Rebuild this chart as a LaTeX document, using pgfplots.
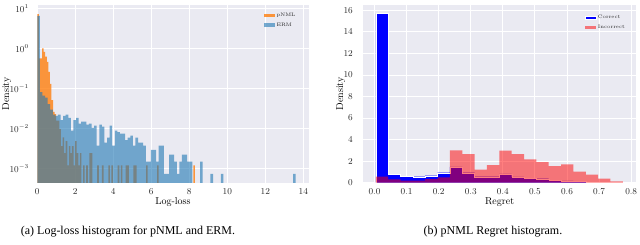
\documentclass[border=0pt]{standalone}
\usepackage{pgfplots}
\pgfplotsset{compat=1.18}
\usepackage{fontspec}
\newfontfamily\capfont{Liberation Serif}
\definecolor{bgc}{HTML}{EAEAF2}
\definecolor{txt}{HTML}{262626}
\definecolor{mplorange}{HTML}{FF7F0E}
\definecolor{mplblue}{HTML}{1F77B4}
\pgfplotsset{
  sns/.style={
    scale only axis,
    axis background/.style={fill=bgc},
    axis line style={draw=none},
    grid=major,
    major grid style={white, line width=0.9pt},
    major tick length=0pt,
    minor tick length=0pt,
    tick label style={font=\fontsize{9}{10}\selectfont, text=txt},
    xticklabel style={yshift=-2pt},
    label style={font=\fontsize{11}{12}\selectfont, text=txt},
    every axis x label/.style={at={(axis description cs:0.5,0)}, yshift=-19pt, anchor=center},
    legend style={draw=none, fill=none, font=\fontsize{5}{6}\selectfont, at={(1,1)}, anchor=north east, row sep=0.5pt, text=txt},
    legend cell align=left,
    legend image code/.code={\fill[##1] (0pt,-1.6pt) rectangle (11pt,1.6pt);},
  }
}
\begin{document}
\begin{tikzpicture}
\path[use as bounding box] (0,0) rectangle (640pt,244pt);
% ---------------- (a) ----------------
\begin{axis}[sns, at={(37.3pt,61.3pt)}, anchor=south west, width=271.3pt, height=177.7pt,
  ymode=log, xmin=0, xmax=14.28, ymin=4.4e-4, ymax=12.1,
  xtick={0,2,4,6,8,10,12,14}, ytick={1e-3,1e-2,1e-1,1,10},
  yticklabel style={xshift=-5pt},
  xlabel={Log-loss}, ylabel={Density},
  every axis y label/.style={at={(axis description cs:-0.113,0.5)}, rotate=90, anchor=center},
  legend style={xshift=-8pt, yshift=-4pt}]
\addplot[const plot, fill=mplorange, fill opacity=0.8, draw=none] table {
x y
0 1e-6
0 7.2
0.083 0.56
0.166 0.56
0.249 1.0
0.332 0.82
0.415 0.62
0.498 0.46
0.581 0.26
0.664 0.13
0.747 0.051
0.830 0.026
0.913 0.0228
0.996 0.0156
1.079 0.0156
1.162 0.0096
1.245 0.0036
1.328 0.0060
1.411 0.0024
1.494 0.0048
1.577 0.0012
1.660 0.0036
1.743 0.0024
1.826 0.0036
1.909 0.0012
1.992 0.0048
2.075 0.0024
2.158 0.0012
2.241 0.0024
2.324 1e-6
2.407 0.0012
2.490 1e-6
2.573 0.0012
2.656 1e-6
2.739 0.0024
2.822 0.0024
2.905 1e-6
3.154 0.0012
3.237 1e-6
3.403 0.0012
3.486 1e-6
3.735 0.0012
3.818 1e-6
3.901 0.0012
3.984 1e-6
4.233 0.0012
4.316 1e-6
4.399 0.0012
4.482 1e-6
4.648 0.0012
4.731 0.0012
4.814 1e-6
5.063 0.0012
5.146 0.0012
5.229 1e-6
5.727 0.0012
5.810 1e-6
6.308 0.0012
6.391 1e-6
8.217 0.0012
8.300 0.0012
8.300 1e-6
};
\addlegendentry{pNML}
\addplot[const plot, fill=mplblue, fill opacity=0.6, draw=none] table {
x y
0 1e-6
0 6.5
0.136 0.0809
0.272 0.0662
0.408 0.0588
0.544 0.0404
0.680 0.0294
0.816 0.0221
0.952 0.0206
1.088 0.0221
1.224 0.0162
1.360 0.0206
1.496 0.0221
1.632 0.0184
1.768 0.0088
1.904 0.0162
2.040 0.0184
2.176 0.0132
2.312 0.0147
2.448 0.0147
2.584 0.0125
2.720 0.0132
2.856 0.0103
2.992 0.0118
3.128 0.0037
3.264 0.0125
3.400 0.0110
3.536 0.0044
3.672 0.0059
3.808 0.0118
3.944 0.0037
4.080 0.0088
4.216 0.0081
4.352 0.0074
4.488 0.0074
4.624 0.0051
4.760 0.0059
4.896 0.0066
5.032 0.0037
5.168 0.0059
5.304 0.0044
5.440 0.0044
5.576 0.0037
5.712 0.00147
5.848 0.00147
5.984 0.0029
6.120 0.0029
6.256 0.00147
6.392 0.0037
6.528 0.0037
6.664 0.000735
6.800 0.000735
6.936 0.0022
7.072 0.0022
7.208 0.00147
7.344 0.000735
7.480 0.00147
7.616 0.0022
7.752 0.0022
7.888 0.00147
8.024 0.00147
8.160 1e-6
8.568 0.00147
8.704 1e-6
9.112 0.000735
9.248 1e-6
9.656 0.000735
9.792 1e-6
13.464 0.000735
13.600 0.000735
13.600 1e-6
};
\addlegendentry{ERM}
\end{axis}
% ---------------- (b) ----------------
\begin{axis}[sns, at={(363.3pt,61.3pt)}, anchor=south west, width=272.7pt, height=177.7pt,
  xmin=-0.035, xmax=0.815, ymin=0, ymax=16.5,
  xtick={0,0.1,0.2,0.3,0.4,0.5,0.6,0.7,0.8}, ytick={0,2,4,6,8,10,12,14,16},
  xticklabel style={/pgf/number format/.cd, fixed, fixed zerofill, precision=1},
  yticklabel style={xshift=-7pt},
  xlabel={Regret}, ylabel={Density},
  every axis y label/.style={at={(axis description cs:-0.083,0.5)}, rotate=90, anchor=center},
  legend style={xshift=-6pt, yshift=-6pt}]
\addplot[const plot, fill=blue, draw=white, line width=0.3pt] table {
x y
0.004 0
0.004 15.7
0.0425 0.78
0.081 0.62
0.1195 0.56
0.158 0.65
0.1965 0.93
0.235 1.48
0.2735 0.93
0.312 0.56
0.3505 0.56
0.389 0.81
0.4275 0.53
0.466 0.40
0.5045 0.37
0.543 0.25
0.5815 0.16
0.62 0.10
0.6585 0.06
0.697 0.03
0.7355 0.01
0.774 0.01
0.774 0
};
\addlegendentry{Correct}
\addplot[const plot, fill=red, fill opacity=0.5, draw=none] table {
x y
0.004 0
0.004 0.56
0.0425 0.31
0.081 0.19
0.1195 0.19
0.158 0.34
0.1965 0.50
0.235 3.0
0.2735 2.66
0.312 1.22
0.3505 1.64
0.389 2.97
0.4275 2.66
0.466 2.17
0.5045 1.92
0.543 1.55
0.5815 1.70
0.62 1.02
0.6585 0.74
0.697 0.37
0.7355 0.13
0.774 0.13
0.774 0
};
\addlegendentry{Incorrect}
\end{axis}
\node[font=\capfont\fontsize{12}{14}\selectfont] at (128pt,12pt) {(a) Log-loss histogram for pNML and ERM.};
\node[font=\capfont\fontsize{12}{14}\selectfont] at (493pt,12pt) {(b) pNML Regret histogram.};
\end{tikzpicture}
\end{document}
